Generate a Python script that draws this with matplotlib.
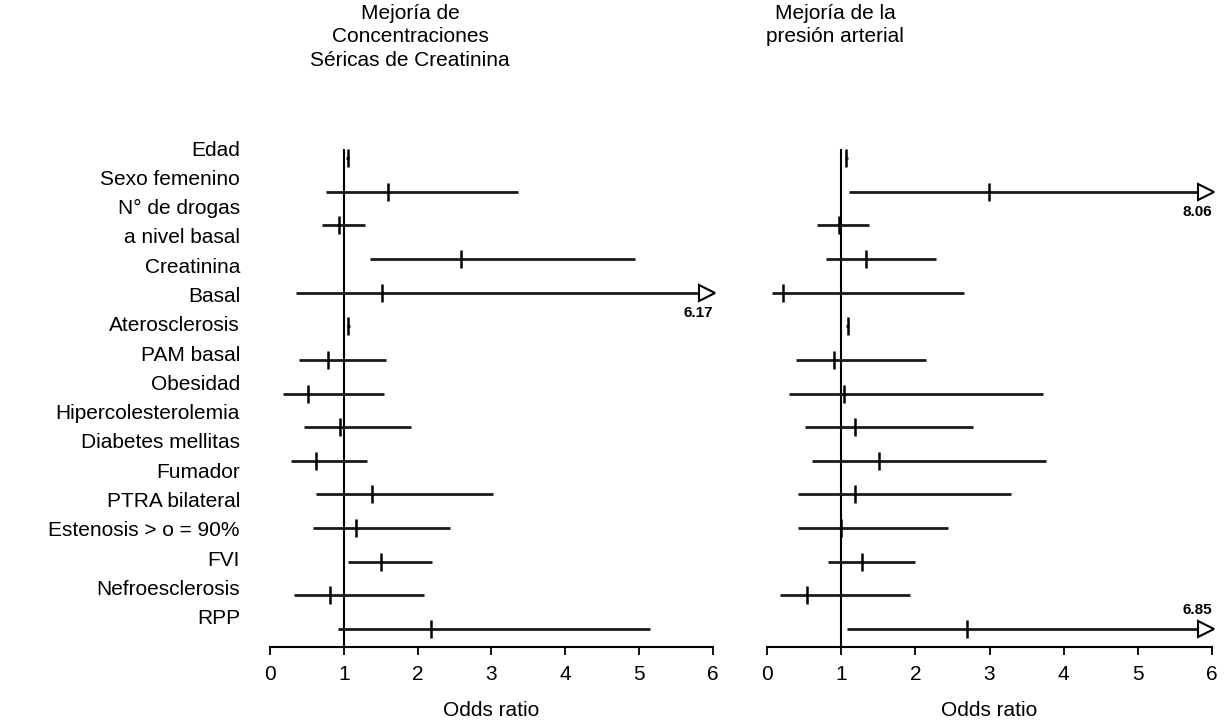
import numpy as np
import matplotlib.pyplot as plt

plt.rcParams['font.family'] = ['Liberation Sans', 'DejaVu Sans']

# text lines of the shared row-label column (two items span two lines)
label_lines = ["Edad", "Sexo femenino", "N° de drogas", "a nivel basal",
               "Creatinina", "Basal", "Aterosclerosis", "PAM basal",
               "Obesidad", "Hipercolesterolemia", "Diabetes mellitas",
               "Fumador", "PTRA bilateral", "Estenosis > o = 90%", "FVI",
               "Nefroesclerosis", "RPP"]

# left panel: mejoria de creatinina (odds ratio, lower, upper)
creat_or = [1.05, 1.60, 0.94, 2.59, 1.52, 1.06, 0.78, 0.52, 0.95, 0.62,
            1.38, 1.17, 1.51, 0.81, 2.18]
creat_lo = [1.03, 0.76, 0.71, 1.36, 0.35, 1.04, 0.39, 0.18, 0.46, 0.29,
            0.62, 0.58, 1.06, 0.33, 0.92]
creat_hi = [1.07, 3.36, 1.29, 4.95, 6.17, 1.08, 1.57, 1.54, 1.91, 1.32,
            3.02, 2.44, 2.20, 2.08, 5.15]

# right panel: mejoria de la presion arterial
pa_or = [1.07, 2.99, 0.97, 1.33, 0.22, 1.09, 0.90, 1.04, 1.19, 1.51,
         1.19, 1.00, 1.28, 0.54, 2.70]
pa_lo = [1.05, 1.11, 0.68, 0.80, 0.07, 1.07, 0.39, 0.30, 0.51, 0.60,
         0.42, 0.42, 0.82, 0.18, 1.08]
pa_hi = [1.09, 8.06, 1.38, 2.28, 2.65, 1.11, 2.15, 3.72, 2.78, 3.76,
         3.29, 2.44, 2.00, 1.93, 6.85]

titles = ["Mejoría de\nConcentraciones\nSéricas de Creatinina",
          "Mejoría de la\npresión arterial"]
ticks = [0, 1, 2, 3, 4, 5, 6]
XMAX = 6


def draw_panel(ax, odds, lo, hi):
    n = len(odds)
    ys = np.arange(n)
    ax.set_xlim(0, XMAX)
    ax.set_ylim(n - 1 + 0.535, -0.535)
    ax.plot([1, 1], [-0.24, n - 1 + 0.535], color='black', lw=1.5,
            clip_on=False, zorder=2)
    for y, o, l, h in zip(ys, odds, lo, hi):
        end = min(h, XMAX - 0.08)
        ax.plot([l, end], [y, y], color='#1a1a1a', lw=2.0,
                solid_capstyle='butt', clip_on=False, zorder=3)
        ax.plot([o], [y], marker='|', markersize=13, mew=1.8,
                color='black', clip_on=False, zorder=4)
        if h > XMAX:
            ax.plot([XMAX - 0.08], [y], marker='>', markersize=12,
                    mfc='white', mec='black', mew=1.5, clip_on=False,
                    zorder=5)
            dy = 14 if y == n - 1 else -15
            ax.annotate(f"{h:.2f}", (XMAX - 0.2, y), xytext=(0, dy),
                        textcoords='offset points', ha='center',
                        va='center', fontsize=11, fontweight='bold')
    for s in ['top', 'right', 'left']:
        ax.spines[s].set_visible(False)
    ax.spines['bottom'].set_bounds(0, XMAX)
    ax.spines['bottom'].set_linewidth(1.5)
    ax.set_yticks([])
    ax.set_xticks(ticks)
    ax.set_xticklabels([str(t) for t in ticks])
    ax.tick_params(axis='x', length=6, width=1.3, labelsize=15, pad=7)
    ax.set_xlabel("Odds ratio", fontsize=15, labelpad=12)


fig = plt.figure(figsize=(12.24, 7.22), dpi=100)
ax1 = fig.add_axes([270 / 1224, 1 - 647 / 722, 443 / 1224, 507 / 722])
ax2 = fig.add_axes([767 / 1224, 1 - 647 / 722, 445 / 1224, 507 / 722])
draw_panel(ax1, creat_or, creat_lo, creat_hi)
draw_panel(ax2, pa_or, pa_lo, pa_hi)

fig.text(410 / 1224, 1 - 4 / 722, titles[0], ha='center', va='top',
         fontsize=15, linespacing=1.3)
fig.text(835 / 1224, 1 - 4 / 722, titles[1], ha='center', va='top',
         fontsize=15, linespacing=1.3)

for i, lab in enumerate(label_lines):
    fig.text(240 / 1224, 1 - (150 + i * 29.3) / 722, lab, ha='right',
             va='center', fontsize=15)

fig.savefig('out.png', dpi=100, facecolor='white')
